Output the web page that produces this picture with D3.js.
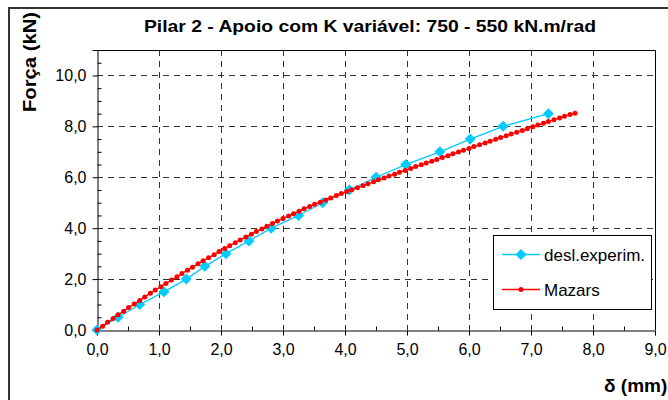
<!DOCTYPE html>
<html><head><meta charset="utf-8">
<script src="https://cdn.jsdelivr.net/npm/d3@7/dist/d3.min.js"></script>
<style>body{margin:0;background:#fff}svg{display:block;font-family:"Liberation Sans",Arial,sans-serif}</style>
</head><body>
<script>
// ---- data ----
const title = "Pilar 2 - Apoio com K variável: 750 - 550 kN.m/rad";
const yTitle = "Força (kN)";
const xTitle = "δ (mm)";
const seriesNames = ["desl.experim.", "Mazars"];
const xTicks = [0,1,2,3,4,5,6,7,8,9];
const yTicks = [0,2,4,6,8,10];
// experimental displacement (mm) and force (kN)
const expDisp = [0, 0.34, 0.69, 1.08, 1.44, 1.74, 2.08, 2.45, 2.81, 3.25, 3.64, 4.07, 4.50, 4.98, 5.53, 6.02, 6.55, 7.28];
const expForce = [0, 0.5, 1.0, 1.5, 2.0, 2.5, 3.0, 3.5, 4.0, 4.5, 5.0, 5.5, 6.0, 6.5, 7.0, 7.5, 8.0, 8.5];
// Mazars model
const mazDisp = [0,0.09,0.17,0.26,0.34,0.43,0.51,0.60,0.69,0.77,0.86,0.94,1.03,1.11,1.20,1.29,1.37,1.46,1.54,1.63,1.71,1.80,1.89,1.97,2.06,2.14,2.23,2.31,2.40,2.49,2.57,2.66,2.74,2.83,2.91,3.00,3.09,3.17,3.26,3.34,3.43,3.51,3.60,3.69,3.77,3.86,3.94,4.03,4.11,4.20,4.29,4.37,4.46,4.54,4.63,4.71,4.80,4.88,4.97,5.06,5.14,5.23,5.31,5.40,5.48,5.57,5.66,5.74,5.83,5.91,6.00,6.08,6.17,6.26,6.34,6.43,6.51,6.60,6.68,6.77,6.86,6.94,7.03,7.11,7.20,7.28,7.37,7.46,7.54,7.63,7.71];
const mazForce = [0,0.15,0.30,0.45,0.60,0.74,0.88,1.02,1.16,1.30,1.44,1.57,1.70,1.83,1.96,2.09,2.22,2.35,2.47,2.60,2.72,2.84,2.96,3.08,3.20,3.31,3.43,3.54,3.65,3.76,3.87,3.97,4.08,4.18,4.28,4.38,4.48,4.57,4.67,4.76,4.85,4.94,5.02,5.11,5.19,5.28,5.36,5.44,5.51,5.59,5.67,5.75,5.82,5.90,5.97,6.05,6.12,6.20,6.27,6.34,6.42,6.49,6.56,6.63,6.70,6.78,6.85,6.92,6.99,7.06,7.13,7.21,7.28,7.35,7.42,7.49,7.56,7.63,7.70,7.77,7.84,7.91,7.98,8.05,8.12,8.19,8.26,8.33,8.40,8.47,8.52];

const W = 668, H = 400;
const CYAN = "#00CCFF", RED = "#FF0000";
const svg = d3.select("body").append("svg").attr("width", W).attr("height", H);

const x = d3.scaleLinear().domain([0, 9]).range([97, 655]);
const y = d3.scaleLinear().domain([0, 11]).range([330, 50]);
const fmt = v => d3.format(".1f")(v).replace(".", ",");

// outer chart border
svg.append("path").attr("d", "M9,400 L9,8 L668,8").attr("fill", "none").attr("stroke", "#333").attr("stroke-width", 2);

// grid
const grid = svg.append("g").attr("stroke", "#333").attr("stroke-width", 1).attr("stroke-dasharray", "6,5");
grid.selectAll(".gx").data(xTicks.slice(1, -1)).join("line")
  .attr("x1", d => Math.round(x(d)) + 0.5).attr("x2", d => Math.round(x(d)) + 0.5)
  .attr("y1", y(11)).attr("y2", y(0));
grid.selectAll(".gy").data(yTicks.slice(1)).join("line")
  .attr("y1", d => Math.round(y(d)) + 0.5).attr("y2", d => Math.round(y(d)) + 0.5)
  .attr("x1", x(0)).attr("x2", x(9));

// plot box (top/right)
svg.append("path").attr("d", `M${x(0)},${y(11)+0.5} L${x(9)+0.5},${y(11)+0.5} L${x(9)+0.5},${y(0)}`)
  .attr("fill", "none").attr("stroke", "#000").attr("stroke-width", 1);

// axes
const xAxis = d3.axisBottom(x).tickValues(xTicks).tickFormat(fmt).tickSize(5).tickPadding(8);
svg.append("g").attr("transform", `translate(0,${Math.round(y(0))+0.5})`).call(xAxis);
const xMinor = d3.axisTop(x).tickValues(d3.range(0.5, 9, 1)).tickFormat("").tickSize(4);
svg.append("g").attr("transform", `translate(0,${Math.round(y(0))+0.5})`).call(xMinor).select(".domain").remove();

const yAxis = d3.axisLeft(y).tickValues(yTicks).tickFormat(fmt).tickSize(5).tickPadding(6);
svg.append("g").attr("transform", `translate(${Math.round(x(0))+0.5},0)`).call(yAxis);
const yMinor = d3.axisRight(y).tickValues(d3.range(0.5, 11.01, 0.5).filter(v => v % 2 !== 0)).tickFormat("").tickSize(4);
svg.append("g").attr("transform", `translate(${Math.round(x(0))+0.5},0)`).call(yMinor).select(".domain").remove();

svg.selectAll(".tick text").attr("font-size", 16).attr("fill", "#000").attr("font-family", "Liberation Sans, Arial, sans-serif");
svg.selectAll(".domain").attr("stroke", "#000");
svg.selectAll(".tick line").attr("stroke", "#000");

// series
const expData = expDisp.map((d, i) => [d, expForce[i]]);
const mazData = mazDisp.map((d, i) => [d, mazForce[i]]);
const line = d3.line().x(d => x(d[0])).y(d => y(d[1]));
const diamond = s => `M0,${-s} L${s},0 L0,${s} L${-s},0Z`;

svg.append("path").datum(expData).attr("d", line).attr("fill", "none").attr("stroke", CYAN).attr("stroke-width", 1.3);
svg.append("g").selectAll("path").data(expData).join("path")
  .attr("transform", d => `translate(${x(d[0])},${y(d[1])})`).attr("d", diamond(5.5)).attr("fill", CYAN);

svg.append("path").datum(mazData).attr("d", line).attr("fill", "none").attr("stroke", RED).attr("stroke-width", 1.3);
svg.append("g").selectAll("circle").data(mazData).join("circle")
  .attr("cx", d => x(d[0])).attr("cy", d => y(d[1])).attr("r", 2.5).attr("fill", RED);

// legend
const lg = svg.append("g");
lg.append("rect").attr("x", 493.5).attr("y", 235.5).attr("width", 158).attr("height", 74).attr("fill", "#fff").attr("stroke", "#000");
[0, 1].forEach(i => {
  const cy = i === 0 ? 254.5 : 289.5;
  const col = i === 0 ? CYAN : RED;
  lg.append("line").attr("x1", 502).attr("x2", 540).attr("y1", cy).attr("y2", cy).attr("stroke", col).attr("stroke-width", 1.3);
  if (i === 0) lg.append("path").attr("transform", `translate(521,${cy})`).attr("d", diamond(5.5)).attr("fill", col);
  else lg.append("circle").attr("cx", 521).attr("cy", cy).attr("r", 2.5).attr("fill", col);
  lg.append("text").attr("x", 544).attr("y", cy + 6).attr("font-size", 17).text(seriesNames[i]);
});

// titles
svg.append("text").attr("x", 370).attr("y", 32).attr("text-anchor", "middle")
  .attr("font-size", 17).attr("font-weight", "bold")
  .attr("textLength", 452).attr("lengthAdjust", "spacingAndGlyphs").text(title);
svg.append("text").attr("transform", "translate(36,62) rotate(-90)").attr("text-anchor", "middle")
  .attr("font-size", 18).attr("font-weight", "bold")
  .attr("textLength", 100).attr("lengthAdjust", "spacingAndGlyphs").text(yTitle);
svg.append("text").attr("x", 604).attr("y", 392)
  .attr("font-size", 19).attr("font-weight", "bold").text(xTitle);
</script>
</body></html>
